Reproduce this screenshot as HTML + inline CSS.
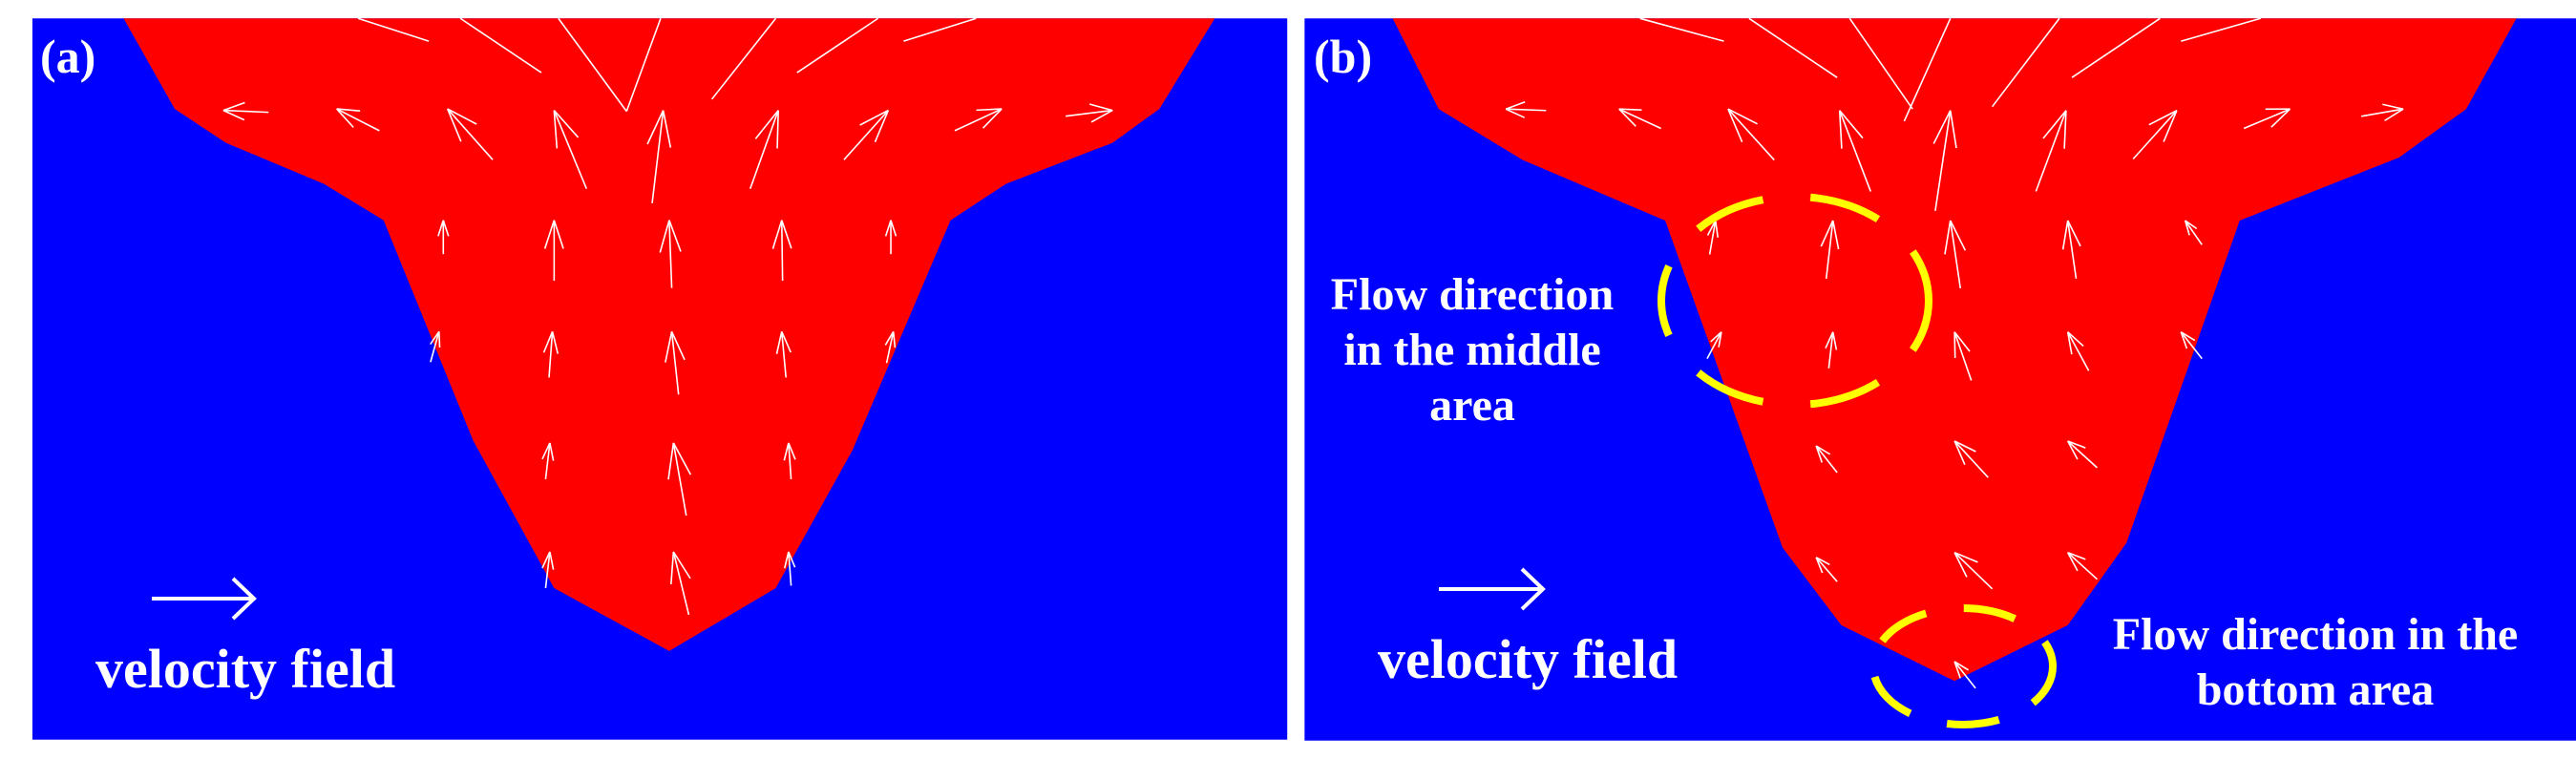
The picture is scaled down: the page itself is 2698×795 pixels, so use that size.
<!DOCTYPE html>
<html><head><meta charset="utf-8">
<style>
html,body{margin:0;padding:0;background:#fff;}
body{width:2698px;height:795px;position:relative;overflow:hidden;}
svg{position:absolute;top:0;}
.t{position:absolute;color:#fff;font-family:"Liberation Serif",serif;font-weight:bold;line-height:1;white-space:nowrap;}
</style></head><body>
<svg id="sa" style="left:0" width="1400" height="795" viewBox="0 0 1568 1568" preserveAspectRatio="none">
<rect x="38" y="38" width="1472" height="1490" fill="#0000ff"/>
<polygon fill="#ff0000" points="145,38 205,225 265,295 380,380 450,455 555,910 650,1215 785,1345 910,1215 1000,930 1115,455 1180,380 1305,295 1360,225 1425,38"/>
<g id="aa" stroke="#fff" stroke-width="1.6" fill="none"></g>
</svg>
<svg id="sb" style="left:1340px" width="1358" height="795" viewBox="0 0 1546 1566" preserveAspectRatio="none">
<rect x="30" y="38" width="1516" height="1490" fill="#0000ff"/>
<polygon fill="#ff0000" points="135,38 190,225 290,330 460,455 600,1130 670,1290 805,1405 940,1290 1010,1120 1145,455 1335,325 1415,225 1475,38"/>
<g id="ab" stroke="#fff" stroke-width="1.6" fill="none"></g>
</svg>
<svg style="left:0" width="2698" height="795">
<ellipse cx="1880" cy="315" rx="140" ry="109" fill="none" stroke="#ffff00" stroke-width="8" stroke-dasharray="75 50" stroke-dashoffset="20"/>
<ellipse cx="2056" cy="698" rx="94" ry="61" fill="none" stroke="#ffff00" stroke-width="8" stroke-dasharray="55 40" stroke-dashoffset="10"/>
<g stroke="#fff" stroke-width="4" fill="none">
<line x1="159" y1="627" x2="264" y2="627"/><polyline points="244,606 266,627 244,648"/>
<line x1="1507" y1="617" x2="1614" y2="617"/><polyline points="1594,596 1616,617 1594,638"/>
</g>
</svg>
<div class="t" style="left:42px;top:34px;font-size:50px;">(a)</div>
<div class="t" style="left:1376px;top:34px;font-size:50px;">(b)</div>
<div class="t" style="left:100px;top:672px;font-size:58px;">velocity field</div>
<div class="t" style="left:1443px;top:662px;font-size:58px;">velocity field</div>
<div class="t" style="left:1372px;top:280px;width:340px;text-align:center;font-size:48px;line-height:58px;">Flow direction<br>in the middle<br>area</div>
<div class="t" style="left:2160px;top:636px;width:530px;text-align:center;font-size:48px;line-height:58px;">Flow direction in the<br>bottom area</div>
<script>
function draw(id,arr,lines){
 var g=document.getElementById(id),s='';
 lines.forEach(function(l){s+='<line vector-effect="non-scaling-stroke" x1="'+l[0]+'" y1="'+l[1]+'" x2="'+l[2]+'" y2="'+l[3]+'"/>';});
 arr.forEach(function(a){
  var tx=a[0],ty=a[1],ex=a[2],ey=a[3];
  var dx=ex-tx,dy=(ey-ty)/1.97,L=Math.sqrt(dx*dx+dy*dy)||1;dx/=L;dy/=L;
  var h=Math.min(40,L*0.5);
  [0.35,-0.35].forEach(function(r){
   var c=Math.cos(r),sn=Math.sin(r);
   var hx=dx*c-dy*sn,hy=dx*sn+dy*c;
   s+='<line vector-effect="non-scaling-stroke" x1="'+tx+'" y1="'+ty+'" x2="'+(tx+hx*h)+'" y2="'+(ty+hy*h*1.97)+'"/>';
  });
  s+='<line vector-effect="non-scaling-stroke" x1="'+tx+'" y1="'+ty+'" x2="'+ex+'" y2="'+ey+'"/>';
 });
 g.innerHTML=s;
}
draw('aa',[
[262,228,315,232],[395,225,445,270],[525,225,578,330],[650,228,688,390],[778,228,765,420],[913,228,880,390],[1042,228,990,330],[1305,228,1250,240],[1175,225,1120,270],
[520,455,520,525],[650,455,650,580],[785,455,788,595],[917,455,918,580],[1045,455,1045,525],
[515,685,505,748],[648,685,644,780],[788,685,796,815],[917,685,922,780],[1048,685,1040,750],
[645,915,640,990],[790,915,805,1065],[925,915,928,990],
[645,1140,640,1215],[790,1140,808,1270],[925,1140,928,1210]
],[[420,38,503,85],[540,38,635,150],[655,38,735,230],[775,38,735,230],[910,38,835,205],[1030,38,935,150],[1145,38,1060,85]]);
draw('ab',[
[270,225,318,228],[405,225,455,265],[535,225,590,330],[668,228,705,395],[800,228,782,435],[938,228,902,395],[1070,228,1018,328],[1205,225,1150,265],[1340,225,1290,240],
[520,455,513,525],[660,455,652,575],[800,455,812,595],[940,455,950,575],[1080,455,1100,505],
[527,685,510,740],[660,685,655,760],[805,685,825,785],[940,685,965,765],[1075,685,1100,740],
[640,920,665,975],[805,910,845,985],[940,910,975,965],
[640,1150,665,1200],[805,1140,850,1215],[940,1140,975,1195],
[805,1365,830,1420]
],[[430,38,530,85],[560,38,665,160],[680,38,755,225],[800,38,745,250],[930,38,850,220],[1050,38,945,160],[1170,38,1075,85]]);
</script>
</body></html>
